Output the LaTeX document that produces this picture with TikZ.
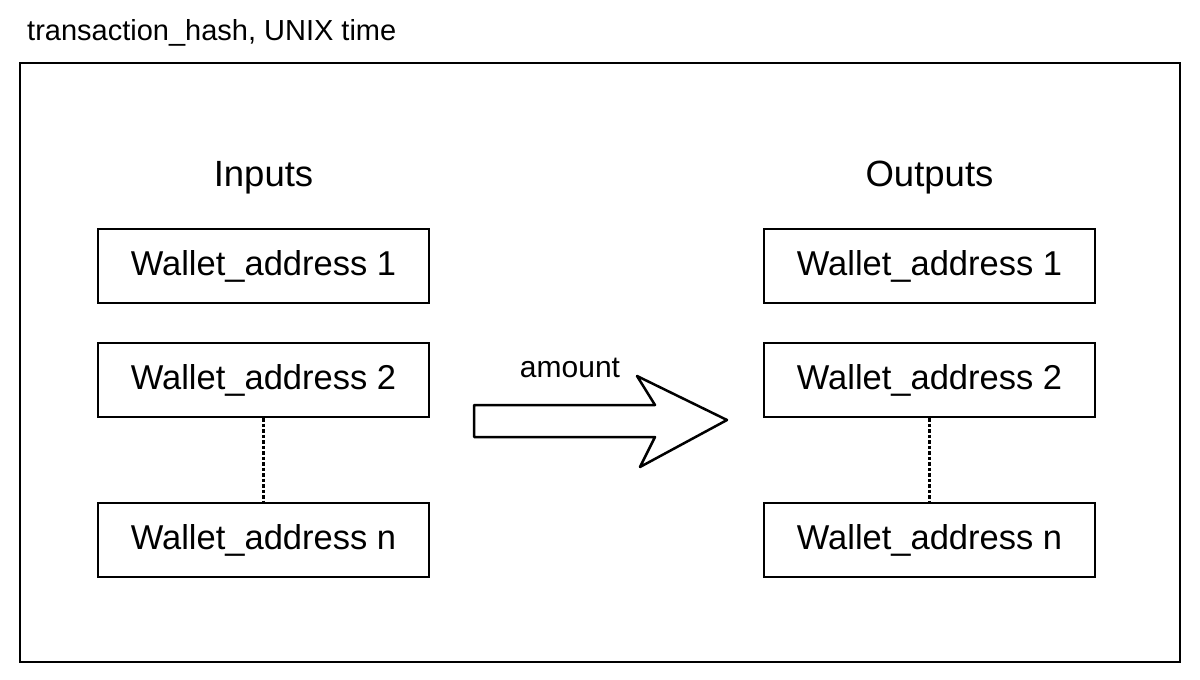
\documentclass[tikz,border=0pt]{standalone}
\usepackage{fontspec}
\setmainfont{Liberation Sans}
\usetikzlibrary{positioning}

\tikzset{
	wallet/.style={draw, line width=2pt, minimum width=331pt, minimum height=74pt, inner sep=0pt, font=\fontsize{34.5}{40}\selectfont},
	header/.style={font=\fontsize{36.5}{42}\selectfont},
	gap/.style={line width=3pt, dash pattern=on 3.5pt off 2pt}
}

\begin{document}
\begin{tikzpicture}[x=1pt, y=-1pt]
			\useasboundingbox (0,0) rectangle (1200,680);
			\draw[line width=2pt] (20,63) rectangle (1180,662);
			\node[anchor=west, inner sep=0pt, font=\fontsize{29}{34}\selectfont] (txhash) at (27,33) {transaction\_hash, UNIX time};

			% inputs
			\node[header] (inputs) at (263.5,178) {Inputs};
			\node[wallet] (in1) at (263.5,266) {Wallet\_address 1};
			\node[wallet] (in2) at (263.5,380) {Wallet\_address 2};
			\node[wallet] (inn) at (263.5,540) {Wallet\_address n};
			\draw[gap] (in2.south) -- (inn.north);

			% outputs
			\node[header] (outputs) at (929.5,178) {Outputs};
			\node[wallet] (out1) at (929.5,266) {Wallet\_address 1};
			\node[wallet] (out2) at (929.5,380) {Wallet\_address 2};
			\node[wallet] (outn) at (929.5,540) {Wallet\_address n};
			\draw[gap] (out2.south) -- (outn.north);

			% transfer
			\coordinate (flow) at (474,421);
			\draw[line width=2.5pt, line join=round, fill=white] (flow) ++(0,-16) -- ++(181,0) -- ++(-18,-29) -- ++(90,44) -- ++(-87,47) -- ++(15,-30) -- ++(-181,0) -- cycle;
			\node[font=\fontsize{30}{35}\selectfont] (amount) at (570,368) {amount};
		\end{tikzpicture}
\end{document}
